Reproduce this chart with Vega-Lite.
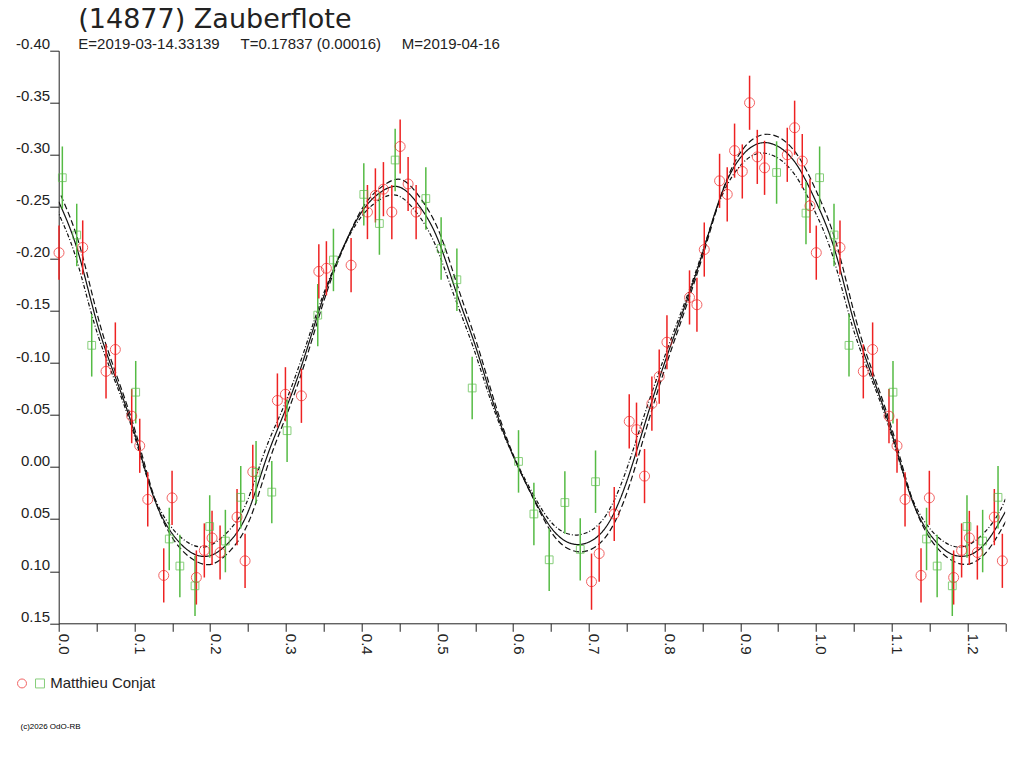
{
"$schema": "https://vega.github.io/schema/vega-lite/v6.json",
"width": 946.6,
"height": 572.6,
"autosize": {"type": "none"},
"padding": {"left": 58.7, "top": 50.7, "right": 18.7, "bottom": 144.7},
"background": "white",
"title": {
"text": "(14877) Zauberflote",
"subtitle": "E=2019-03-14.33139\u00a0\u00a0\u00a0\u00a0\u00a0T=0.17837 (0.00016)\u00a0\u00a0\u00a0\u00a0\u00a0M=2019-04-16",
"anchor": "start", "frame": "group", "dx": 19.6, "offset": -16,
"font": "DejaVu Sans", "fontSize": 27, "fontWeight": "normal", "color": "#222",
"subtitleFont": "Liberation Sans", "subtitleFontSize": 15, "subtitleColor": "#222", "subtitlePadding": 3
},
"config": {
"view": {"stroke": null},
"axis": {"domainColor": "#222", "tickColor": "#222", "domainWidth": 1, "tickWidth": 1, "grid": false, "labelFont": "Liberation Sans", "labelFontSize": 15, "labelColor": "#222", "labelOverlap": false, "labelFlush": false},
"legend": {"orient": "none", "legendX": -44.2, "legendY": 625, "direction": "horizontal", "labelFont": "Liberation Sans", "labelFontSize": 15, "labelColor": "#222", "labelOffset": 2.7, "columnPadding": -6, "symbolStrokeWidth": 1, "symbolSize": 80}
},
"datasets": {
"crv": [
{"p":0,"m":-0.255,"k":"fit"},{"p":0.025,"m":-0.208,"k":"fit"},{"p":0.05,"m":-0.14,"k":"fit"},{"p":0.075,"m":-0.086,"k":"fit"},{"p":0.1,"m":-0.033,"k":"fit"},{"p":0.125,"m":0.028,"k":"fit"},{"p":0.15,"m":0.064,"k":"fit"},{"p":0.175,"m":0.082,"k":"fit"},{"p":0.2,"m":0.085,"k":"fit"},{"p":0.225,"m":0.072,"k":"fit"},{"p":0.25,"m":0.043,"k":"fit"},{"p":0.275,"m":-0.01,"k":"fit"},{"p":0.3,"m":-0.056,"k":"fit"},{"p":0.325,"m":-0.107,"k":"fit"},{"p":0.35,"m":-0.164,"k":"fit"},{"p":0.375,"m":-0.21,"k":"fit"},{"p":0.4,"m":-0.245,"k":"fit"},{"p":0.425,"m":-0.264,"k":"fit"},{"p":0.45,"m":-0.269,"k":"fit"},{"p":0.475,"m":-0.252,"k":"fit"},{"p":0.5,"m":-0.22,"k":"fit"},{"p":0.525,"m":-0.168,"k":"fit"},{"p":0.55,"m":-0.117,"k":"fit"},{"p":0.575,"m":-0.059,"k":"fit"},{"p":0.6,"m":-0.011,"k":"fit"},{"p":0.625,"m":0.027,"k":"fit"},{"p":0.65,"m":0.058,"k":"fit"},{"p":0.675,"m":0.073,"k":"fit"},{"p":0.7,"m":0.072,"k":"fit"},{"p":0.725,"m":0.055,"k":"fit"},{"p":0.75,"m":0.014,"k":"fit"},{"p":0.775,"m":-0.044,"k":"fit"},{"p":0.8,"m":-0.1,"k":"fit"},{"p":0.825,"m":-0.151,"k":"fit"},{"p":0.85,"m":-0.205,"k":"fit"},{"p":0.875,"m":-0.262,"k":"fit"},{"p":0.9,"m":-0.297,"k":"fit"},{"p":0.925,"m":-0.311,"k":"fit"},{"p":0.95,"m":-0.308,"k":"fit"},{"p":0.975,"m":-0.29,"k":"fit"},{"p":1.0,"m":-0.255,"k":"fit"},{"p":1.025,"m":-0.208,"k":"fit"},{"p":1.05,"m":-0.14,"k":"fit"},{"p":1.075,"m":-0.086,"k":"fit"},{"p":1.1,"m":-0.033,"k":"fit"},{"p":1.125,"m":0.028,"k":"fit"},{"p":1.15,"m":0.064,"k":"fit"},{"p":1.175,"m":0.082,"k":"fit"},{"p":1.2,"m":0.085,"k":"fit"},{"p":1.225,"m":0.072,"k":"fit"},{"p":1.25,"m":0.043,"k":"fit"},
{"p":0.003,"m":-0.261,"k":"dash"},{"p":0.028,"m":-0.212,"k":"dash"},{"p":0.053,"m":-0.141,"k":"dash"},{"p":0.078,"m":-0.085,"k":"dash"},{"p":0.103,"m":-0.03,"k":"dash"},{"p":0.128,"m":0.033,"k":"dash"},{"p":0.153,"m":0.071,"k":"dash"},{"p":0.178,"m":0.089,"k":"dash"},{"p":0.203,"m":0.093,"k":"dash"},{"p":0.228,"m":0.079,"k":"dash"},{"p":0.253,"m":0.049,"k":"dash"},{"p":0.278,"m":-0.006,"k":"dash"},{"p":0.303,"m":-0.054,"k":"dash"},{"p":0.328,"m":-0.107,"k":"dash"},{"p":0.353,"m":-0.166,"k":"dash"},{"p":0.378,"m":-0.214,"k":"dash"},{"p":0.403,"m":-0.251,"k":"dash"},{"p":0.428,"m":-0.27,"k":"dash"},{"p":0.453,"m":-0.276,"k":"dash"},{"p":0.478,"m":-0.258,"k":"dash"},{"p":0.503,"m":-0.225,"k":"dash"},{"p":0.528,"m":-0.171,"k":"dash"},{"p":0.553,"m":-0.117,"k":"dash"},{"p":0.578,"m":-0.057,"k":"dash"},{"p":0.603,"m":-0.007,"k":"dash"},{"p":0.628,"m":0.032,"k":"dash"},{"p":0.653,"m":0.065,"k":"dash"},{"p":0.678,"m":0.08,"k":"dash"},{"p":0.703,"m":0.079,"k":"dash"},{"p":0.728,"m":0.061,"k":"dash"},{"p":0.753,"m":0.019,"k":"dash"},{"p":0.778,"m":-0.042,"k":"dash"},{"p":0.803,"m":-0.1,"k":"dash"},{"p":0.828,"m":-0.153,"k":"dash"},{"p":0.853,"m":-0.209,"k":"dash"},{"p":0.878,"m":-0.268,"k":"dash"},{"p":0.903,"m":-0.305,"k":"dash"},{"p":0.928,"m":-0.319,"k":"dash"},{"p":0.953,"m":-0.316,"k":"dash"},{"p":0.978,"m":-0.297,"k":"dash"},{"p":1.003,"m":-0.261,"k":"dash"},{"p":1.028,"m":-0.212,"k":"dash"},{"p":1.053,"m":-0.141,"k":"dash"},{"p":1.078,"m":-0.085,"k":"dash"},{"p":1.103,"m":-0.03,"k":"dash"},{"p":1.128,"m":0.033,"k":"dash"},{"p":1.153,"m":0.071,"k":"dash"},{"p":1.178,"m":0.089,"k":"dash"},{"p":1.203,"m":0.093,"k":"dash"},{"p":1.228,"m":0.079,"k":"dash"},{"p":1.253,"m":0.049,"k":"dash"},
{"p":-0.003,"m":-0.248,"k":"dot"},{"p":0.022,"m":-0.203,"k":"dot"},{"p":0.047,"m":-0.138,"k":"dot"},{"p":0.072,"m":-0.087,"k":"dot"},{"p":0.097,"m":-0.037,"k":"dot"},{"p":0.122,"m":0.021,"k":"dot"},{"p":0.147,"m":0.056,"k":"dot"},{"p":0.172,"m":0.073,"k":"dot"},{"p":0.197,"m":0.076,"k":"dot"},{"p":0.222,"m":0.063,"k":"dot"},{"p":0.247,"m":0.036,"k":"dot"},{"p":0.272,"m":-0.015,"k":"dot"},{"p":0.297,"m":-0.058,"k":"dot"},{"p":0.322,"m":-0.107,"k":"dot"},{"p":0.347,"m":-0.161,"k":"dot"},{"p":0.372,"m":-0.205,"k":"dot"},{"p":0.397,"m":-0.238,"k":"dot"},{"p":0.422,"m":-0.256,"k":"dot"},{"p":0.447,"m":-0.261,"k":"dot"},{"p":0.472,"m":-0.245,"k":"dot"},{"p":0.497,"m":-0.214,"k":"dot"},{"p":0.522,"m":-0.165,"k":"dot"},{"p":0.547,"m":-0.116,"k":"dot"},{"p":0.572,"m":-0.061,"k":"dot"},{"p":0.597,"m":-0.016,"k":"dot"},{"p":0.622,"m":0.02,"k":"dot"},{"p":0.647,"m":0.05,"k":"dot"},{"p":0.672,"m":0.064,"k":"dot"},{"p":0.697,"m":0.063,"k":"dot"},{"p":0.722,"m":0.047,"k":"dot"},{"p":0.747,"m":0.008,"k":"dot"},{"p":0.772,"m":-0.047,"k":"dot"},{"p":0.797,"m":-0.1,"k":"dot"},{"p":0.822,"m":-0.149,"k":"dot"},{"p":0.847,"m":-0.2,"k":"dot"},{"p":0.872,"m":-0.254,"k":"dot"},{"p":0.897,"m":-0.287,"k":"dot"},{"p":0.922,"m":-0.301,"k":"dot"},{"p":0.947,"m":-0.298,"k":"dot"},{"p":0.972,"m":-0.281,"k":"dot"},{"p":0.997,"m":-0.248,"k":"dot"},{"p":1.022,"m":-0.203,"k":"dot"},{"p":1.047,"m":-0.138,"k":"dot"},{"p":1.072,"m":-0.087,"k":"dot"},{"p":1.097,"m":-0.037,"k":"dot"},{"p":1.122,"m":0.021,"k":"dot"},{"p":1.147,"m":0.056,"k":"dot"},{"p":1.172,"m":0.073,"k":"dot"},{"p":1.197,"m":0.076,"k":"dot"},{"p":1.222,"m":0.063,"k":"dot"},{"p":1.247,"m":0.036,"k":"dot"},{"p":1.272,"m":-0.015,"k":"dot"}
],
"pts": [
{"p":0.0048,"m":-0.278,"e":0.03,"s":"g"},{"p":0.0004,"m":-0.206,"e":0.026,"s":"r"},{"p":0.0238,"m":-0.223,"e":0.03,"s":"g"},{"p":0.0317,"m":-0.211,"e":0.026,"s":"r"},{"p":0.0436,"m":-0.117,"e":0.03,"s":"g"},{"p":0.0625,"m":-0.092,"e":0.026,"s":"r"},{"p":0.0748,"m":-0.113,"e":0.026,"s":"r"},{"p":0.1017,"m":-0.072,"e":0.03,"s":"g"},{"p":0.0964,"m":-0.049,"e":0.026,"s":"r"},{"p":0.107,"m":-0.0205,"e":0.026,"s":"r"},{"p":0.1176,"m":0.031,"e":0.026,"s":"r"},{"p":0.1497,"m":0.0295,"e":0.026,"s":"r"},{"p":0.146,"m":0.069,"e":0.03,"s":"g"},{"p":0.1387,"m":0.104,"e":0.026,"s":"r"},{"p":0.16,"m":0.095,"e":0.03,"s":"g"},{"p":0.18,"m":0.114,"e":0.029,"s":"g"},{"p":0.1818,"m":0.106,"e":0.026,"s":"r"},{"p":0.1923,"m":0.08,"e":0.026,"s":"r"},{"p":0.1994,"m":0.057,"e":0.03,"s":"g"},{"p":0.2025,"m":0.068,"e":0.026,"s":"r"},{"p":0.2131,"m":0.082,"e":0.026,"s":"r"},{"p":0.2201,"m":0.071,"e":0.03,"s":"g"},{"p":0.2355,"m":0.048,"e":0.027,"s":"r"},{"p":0.2404,"m":0.029,"e":0.03,"s":"g"},{"p":0.2461,"m":0.09,"e":0.026,"s":"r"},
{"p":0.2563,"m":0.0045,"e":0.026,"s":"r"},{"p":0.2606,"m":0.005,"e":0.03,"s":"g"},{"p":0.2814,"m":0.024,"e":0.03,"s":"g"},{"p":0.2888,"m":-0.064,"e":0.026,"s":"r"},{"p":0.2994,"m":-0.07,"e":0.026,"s":"r"},{"p":0.3016,"m":-0.035,"e":0.03,"s":"g"},{"p":0.3205,"m":-0.0685,"e":0.026,"s":"r"},{"p":0.3421,"m":-0.146,"e":0.03,"s":"g"},{"p":0.3435,"m":-0.188,"e":0.026,"s":"r"},{"p":0.3535,"m":-0.191,"e":0.026,"s":"r"},{"p":0.3628,"m":-0.199,"e":0.03,"s":"g"},{"p":0.3861,"m":-0.194,"e":0.026,"s":"r"},{"p":0.4029,"m":-0.262,"e":0.03,"s":"g"},{"p":0.4077,"m":-0.245,"e":0.026,"s":"r"},{"p":0.4182,"m":-0.261,"e":0.026,"s":"r"},{"p":0.4235,"m":-0.234,"e":0.03,"s":"g"},{"p":0.4288,"m":-0.267,"e":0.026,"s":"r"},{"p":0.4399,"m":-0.245,"e":0.026,"s":"r"},{"p":0.4443,"m":-0.295,"e":0.03,"s":"g"},{"p":0.4509,"m":-0.308,"e":0.026,"s":"r"},{"p":0.4614,"m":-0.272,"e":0.026,"s":"r"},{"p":0.472,"m":-0.245,"e":0.026,"s":"r"},{"p":0.4848,"m":-0.258,"e":0.03,"s":"g"},
{"p":0.505,"m":-0.21,"e":0.03,"s":"g"},{"p":0.5258,"m":-0.18,"e":0.03,"s":"g"},{"p":0.546,"m":-0.076,"e":0.03,"s":"g"},{"p":0.6072,"m":-0.0055,"e":0.03,"s":"g"},{"p":0.6275,"m":0.045,"e":0.03,"s":"g"},{"p":0.6477,"m":0.089,"e":0.03,"s":"g"},{"p":0.6684,"m":0.034,"e":0.03,"s":"g"},{"p":0.6887,"m":0.079,"e":0.03,"s":"g"},{"p":0.7089,"m":0.014,"e":0.03,"s":"g"},{"p":0.7036,"m":0.11,"e":0.027,"s":"r"},{"p":0.7137,"m":0.083,"e":0.027,"s":"r"},{"p":0.7336,"m":0.045,"e":0.026,"s":"r"},
{"p":0.7534,"m":-0.044,"e":0.026,"s":"r"},{"p":0.763,"m":-0.036,"e":0.026,"s":"r"},{"p":0.7736,"m":0.0086,"e":0.026,"s":"r"},{"p":0.7833,"m":-0.061,"e":0.026,"s":"r"},{"p":0.793,"m":-0.087,"e":0.026,"s":"r"},{"p":0.8032,"m":-0.12,"e":0.026,"s":"r"},{"p":0.833,"m":-0.163,"e":0.026,"s":"r"},{"p":0.8428,"m":-0.156,"e":0.026,"s":"r"},{"p":0.8525,"m":-0.209,"e":0.026,"s":"r"},{"p":0.8727,"m":-0.275,"e":0.026,"s":"r"},{"p":0.8828,"m":-0.262,"e":0.026,"s":"r"},{"p":0.8925,"m":-0.304,"e":0.026,"s":"r"},{"p":0.9027,"m":-0.284,"e":0.026,"s":"r"},{"p":0.9123,"m":-0.35,"e":0.026,"s":"r"},{"p":0.9225,"m":-0.298,"e":0.026,"s":"r"},{"p":0.9321,"m":-0.2875,"e":0.026,"s":"r"},{"p":0.948,"m":-0.283,"e":0.03,"s":"g"},{"p":0.9621,"m":-0.3,"e":0.026,"s":"r"},{"p":0.9718,"m":-0.326,"e":0.026,"s":"r"},{"p":0.9819,"m":-0.294,"e":0.026,"s":"r"},{"p":0.9868,"m":-0.244,"e":0.03,"s":"g"},{"p":0.9921,"m":-0.251,"e":0.026,"s":"r"},
{"p":1.0048,"m":-0.278,"e":0.03,"s":"g"},{"p":1.0004,"m":-0.206,"e":0.026,"s":"r"},{"p":1.0238,"m":-0.223,"e":0.03,"s":"g"},{"p":1.0317,"m":-0.211,"e":0.026,"s":"r"},{"p":1.0436,"m":-0.117,"e":0.03,"s":"g"},{"p":1.0625,"m":-0.092,"e":0.026,"s":"r"},{"p":1.0748,"m":-0.113,"e":0.026,"s":"r"},{"p":1.1017,"m":-0.072,"e":0.03,"s":"g"},{"p":1.0964,"m":-0.049,"e":0.026,"s":"r"},{"p":1.107,"m":-0.0205,"e":0.026,"s":"r"},{"p":1.1176,"m":0.031,"e":0.026,"s":"r"},{"p":1.1497,"m":0.0295,"e":0.026,"s":"r"},{"p":1.146,"m":0.069,"e":0.03,"s":"g"},{"p":1.1387,"m":0.104,"e":0.026,"s":"r"},{"p":1.16,"m":0.095,"e":0.03,"s":"g"},{"p":1.18,"m":0.114,"e":0.029,"s":"g"},{"p":1.1818,"m":0.106,"e":0.026,"s":"r"},{"p":1.1923,"m":0.08,"e":0.026,"s":"r"},{"p":1.1994,"m":0.057,"e":0.03,"s":"g"},{"p":1.2025,"m":0.068,"e":0.026,"s":"r"},{"p":1.2131,"m":0.082,"e":0.026,"s":"r"},{"p":1.2201,"m":0.071,"e":0.03,"s":"g"},{"p":1.2355,"m":0.048,"e":0.027,"s":"r"},{"p":1.2404,"m":0.029,"e":0.03,"s":"g"},{"p":1.2461,"m":0.09,"e":0.026,"s":"r"}
]
},
"encoding": {
"x": {"field": "p", "type": "quantitative",
 "scale": {"domain": [0, 1.25], "nice": false, "zero": false},
 "axis": {"values": [0,0.05,0.1,0.15,0.2,0.25,0.3,0.35,0.4,0.45,0.5,0.55,0.6,0.65,0.7,0.75,0.8,0.85,0.9,0.95,1.0,1.05,1.1,1.15,1.2,1.25],
  "labelExpr": "abs(datum.value*10 - round(datum.value*10)) < 0.001 ? format(datum.value, '.1f') : ''",
  "labelAngle": 90, "labelAlign": "left", "labelBaseline": "alphabetic", "tickSize": 8, "labelPadding": 2,
  "title": "(c)2026 OdO-RB", "titleX": -38.7, "titleY": 102.7, "titleAlign": "left", "titleBaseline": "middle", "titleFontSize": 8, "titleFontWeight": "normal", "titleFont": "Liberation Sans", "titleColor": "#000"}},
"y": {"field": "m", "type": "quantitative",
 "scale": {"domain": [-0.4, 0.15], "reverse": true, "nice": false, "zero": false},
 "axis": {"values": [-0.4,-0.35,-0.3,-0.25,-0.2,-0.15,-0.1,-0.05,0,0.05,0.1,0.15],
  "labelExpr": "(datum.value < -0.001 ? '-' : '') + format(abs(datum.value), '.2f')",
  "tickSize": 9, "labelPadding": 0, "labelBaseline": "alphabetic", "labelOffset": -2, "title": null}},
"color": {"field": "s", "type": "nominal", "scale": {"domain": ["r","g"], "range": ["#ee2222","#55bb44"]},
 "legend": {"title": null, "labelExpr": "datum.value == 'g' ? 'Matthieu Conjat' : ''"}}
},
"layer": [
{"data": {"name": "crv"},
 "mark": {"type": "line", "interpolate": "natural", "strokeWidth": 1.2, "clip": true},
 "encoding": {"color": {"value": "#111"}, "strokeDash": {"field": "k", "type": "nominal", "scale": {"domain": ["fit","dash","dot"], "range": [[1,0],[6,3],[4,2,1,2]]}, "legend": null}}},
{"data": {"name": "pts"},
 "mark": {"type": "errorbar", "thickness": 1.5},
 "encoding": {"yError": {"field": "e"}}},
{"data": {"name": "pts"},
 "transform": [{"filter": "datum.s == 'r'"}],
 "mark": {"type": "point", "filled": false, "strokeWidth": 1, "size": 100},
 "encoding": {
  "shape": {"field": "s", "type": "nominal", "scale": {"domain": ["r","g"], "range": ["circle","square"]},
   "legend": {"title": null, "labelExpr": "datum.value == 'g' ? 'Matthieu Conjat' : ''"}}
 }},
{"data": {"name": "pts"},
 "transform": [{"filter": "datum.s == 'g'"}],
 "mark": {"type": "point", "filled": false, "strokeWidth": 1, "size": 60},
 "encoding": {
  "shape": {"field": "s", "type": "nominal", "scale": {"domain": ["r","g"], "range": ["circle","square"]},
   "legend": {"title": null, "labelExpr": "datum.value == 'g' ? 'Matthieu Conjat' : ''"}}
 }}
]
}
